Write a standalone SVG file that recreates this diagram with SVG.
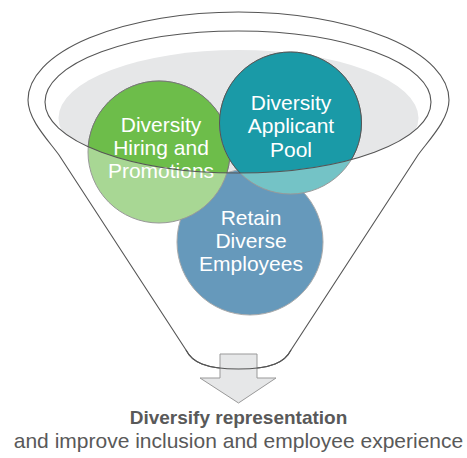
<svg xmlns="http://www.w3.org/2000/svg" width="467" height="458" viewBox="0 0 467 458">
<style>
.line{fill:none;stroke:#555;stroke-width:1.1}
.lbl{font-family:"Liberation Sans",Arial,Helvetica,sans-serif;font-size:21px;fill:#fff;text-anchor:middle}
.cap{font-family:"Liberation Sans",Arial,Helvetica,sans-serif;fill:#595959;text-anchor:middle}
</style>
<defs>
<clipPath id="rim"><ellipse cx="238" cy="102" rx="193" ry="71"/></clipPath>
</defs>
<rect width="467" height="458" fill="#fff"/>
<g id="funnel">
<path class="line" d="M28 100 A210.5 88 0 0 1 449 100 C449 120 428 141 418 155 L291 350 C285 362 272 369 238.5 369 C205 369 192 362 186 350 L59 155 C49 141 28 120 28 100 Z"/>
<ellipse cx="238.5" cy="118" rx="180" ry="68" fill="#e6e7e8" clip-path="url(#rim)"/>
</g>
<g id="retain">
<circle cx="250" cy="242" r="73" fill="#6699bb" stroke="#aaa" stroke-width="1"/>
<text class="lbl" x="251" y="225">Retain</text>
<text class="lbl" x="251" y="248">Diverse</text>
<text class="lbl" x="251" y="271">Employees</text>
</g>
<g id="hiring">
<circle cx="159" cy="152" r="71" fill="#a8d794" stroke="#999" stroke-width="1"/>
<circle cx="159" cy="152" r="71" fill="#6dbd4a" clip-path="url(#rim)"/>
<circle cx="159" cy="152" r="71" fill="none" stroke="#777" stroke-width="1" clip-path="url(#rim)"/>
<text class="lbl" x="161" y="132">Diversity</text>
<text class="lbl" x="161" y="155">Hiring and</text>
<text class="lbl" x="161" y="178">Promotions</text>
</g>
<g id="applicant">
<circle cx="290.5" cy="123" r="71" fill="#74c3c6" stroke="#999" stroke-width="1"/>
<circle cx="290.5" cy="123" r="71" fill="#1a9aa7" clip-path="url(#rim)"/>
<circle cx="290.5" cy="123" r="71" fill="none" stroke="#555" stroke-width="1" clip-path="url(#rim)"/>
<text class="lbl" x="291" y="110">Diversity</text>
<text class="lbl" x="291" y="133">Applicant</text>
<text class="lbl" x="291" y="157">Pool</text>
</g>
<g id="rim-line">
<ellipse class="line" cx="238" cy="102" rx="193" ry="71"/>
</g>
<g id="connectors">
<path d="M220 354 H257 V378 H276 L238.5 403 L200 378 H220 Z" fill="#e6e7e8" stroke="#999" stroke-width="1"/>
<path class="line" d="M186 350 C192 362 205 369 238.5 369 C272 369 285 362 291 350"/>
</g>
<g id="caption">
<text class="cap" x="238.5" y="424" font-size="19" font-weight="bold">Diversify representation</text>
<text class="cap" x="238.5" y="448" font-size="21">and improve inclusion and employee experience</text>
</g>
</svg>
